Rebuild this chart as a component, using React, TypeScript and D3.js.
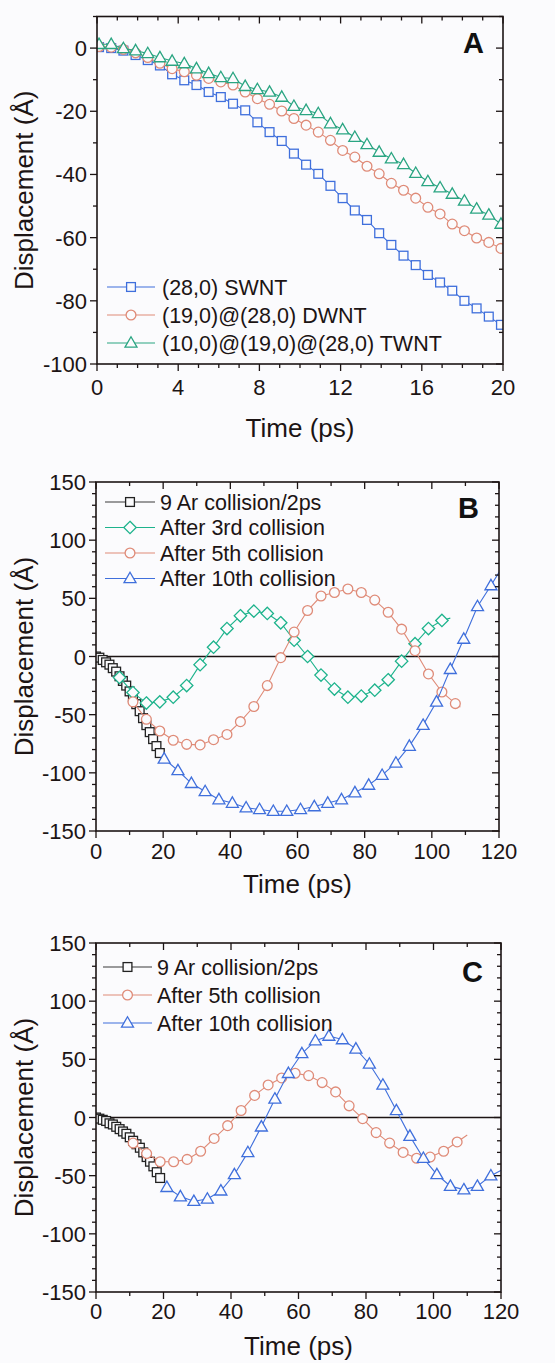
import React from 'react';
import * as d3 from 'd3';

// ---- panel A data (time in ps, displacement in Å) ----
const timeA = [0.1, 0.7, 1.3, 1.9, 2.5, 3.1, 3.7, 4.3, 4.9, 5.5, 6.1, 6.7, 7.3, 7.9, 8.5, 9.1, 9.7, 10.3, 10.9, 11.5, 12.1, 12.7, 13.3, 13.9, 14.5, 15.1, 15.7, 16.3, 16.9, 17.5, 18.1, 18.7, 19.3, 19.9];
const swnt = [0.3, 0, -0.8, -2.2, -3.8, -5.5, -8.3, -10.2, -11.7, -13.9, -15.5, -17.6, -19.7, -23.5, -26.6, -29.4, -33.4, -36.9, -39.8, -43.6, -47.5, -51.4, -54.4, -58.6, -62.3, -65.7, -68.7, -71.8, -74.2, -76.8, -80, -82.4, -85, -87.6];
const dwnt = [0.5, 0.3, -0.4, -1.5, -3, -4.8, -6.5, -7.5, -8.6, -9.6, -10.7, -11.7, -13.9, -16, -17.8, -19.9, -22.3, -24.4, -26.6, -29.2, -32.4, -34.5, -37.4, -39.8, -42.8, -45, -47.5, -50.4, -52.5, -55.7, -57.8, -60.1, -61.5, -63.4];
const twnt = [1.2, 1.2, -0.1, -0.8, -1.7, -3, -4.1, -4.9, -6.5, -8, -9.3, -9.6, -12.1, -13.1, -13.9, -15.5, -18.4, -19.7, -20.7, -23.9, -25.8, -28.2, -30.5, -32.9, -35, -36.8, -39.6, -42.2, -44.2, -46.2, -48.4, -50.9, -52.8, -55.7];

// ---- panel B data ----
const bArT = [0, 1, 2, 3, 4, 5, 6, 7, 8, 9, 10, 11, 12, 13, 14, 15, 16, 17, 18, 19];
const bArV = [0, -1, -3, -5, -7, -10, -13, -17, -21, -25, -30, -35, -41, -47, -53, -59, -65, -71, -77, -83];
const b3rdT = [7, 11, 15, 19, 23, 27, 31, 35, 39, 43, 47, 51, 55, 59, 63, 67, 71, 75, 79, 83, 87, 91, 95, 99, 103, 105.5];
const b3rdV = [-18, -31, -40, -39, -35, -25, -7, 8, 24, 35, 39, 37, 29, 14, 0, -16, -28, -35, -34, -29, -20, -4, 11, 24, 31, 33];
const b5thT = [11, 15, 19, 23, 27, 31, 35, 39, 43, 47, 51, 55, 59, 63, 67, 71, 75, 79, 83, 87, 91, 95, 99, 103, 107, 108.5];
const b5thV = [-39, -54, -64, -72, -75.5, -76, -71.5, -67, -56, -43, -25, -1, 21, 39.5, 52, 55, 58, 55, 48.5, 38, 23.5, 5, -15, -30.5, -40.5, -43.5];
const b10thT = [20.3, 24.4, 28.4, 32.5, 36.6, 40.6, 44.7, 48.7, 52.8, 56.8, 60.9, 65, 69, 73.1, 77.1, 81.2, 85.2, 89.3, 93.3, 97.4, 101.4, 105.5, 109.5, 113.6, 117.6, 121];
const b10thV = [-88, -98, -109, -116, -123, -126, -130, -131.5, -133, -133, -131.5, -129, -126, -123, -117, -110.5, -102, -91.5, -77, -59, -39, -11, 15, 43, 61, 77];

// ---- panel C data ----
const cArT = [0, 1, 2, 3, 4, 5, 6, 7, 8, 9, 10, 11, 12, 13, 14, 15, 16, 17, 18, 19];
const cArV = [0, -1, -2, -3, -5, -6, -8, -10, -12, -14, -17, -20, -23, -26, -30, -34, -38, -42, -47, -52];
const c5thT = [11, 15, 19, 23, 27, 31, 35, 39, 43, 47, 51, 55, 59, 63, 67, 71, 75, 79, 83, 87, 91, 95, 99, 103, 107, 110];
const c5thV = [-22, -31, -38, -38, -36, -29, -18, -7, 6, 19, 28, 34, 38, 36, 30, 22, 10, -1, -13, -22, -30, -35, -34, -29, -21, -15];
const c10thT = [21, 25, 29, 33, 37, 41, 45, 49, 53, 57, 61, 65, 69, 73, 77, 81, 85, 89, 93, 97, 101, 105, 109, 113, 117, 121];
const c10thV = [-60, -68, -72, -70, -63, -49, -30, -8, 16, 38, 55, 66, 70, 67, 59, 46, 28, 6, -16, -35, -49, -59, -62, -59, -50, -44];

// axis tick labels
const xTicksA = [0, 4, 8, 12, 16, 20];
const yTicksA = [0, -20, -40, -60, -80, -100];
const xTicksBC = [0, 20, 40, 60, 80, 100, 120];
const yTicksBC = [150, 100, 50, 0, -50, -100, -150];

const FONT = 'Liberation Sans, Arial, Helvetica, sans-serif';
const BG = '#fbfbfd';
const INK = '#1c1414';

const BLUE = '#3f6fdc';
const RED = '#df8b78';
const GREEN_A = '#2aa582';
const GREEN_B = '#1db38c';
const GRAY = '#3a3a3a';

type Series = {
  name: string;
  t: number[];
  v: number[];
  color: string;
  marker: 'square' | 'circle' | 'triangle' | 'diamond';
  tail?: boolean; // last point is line only
  lineColor?: string;
};

const Marker = ({ type, x, y, color }: { type: string; x: number; y: number; color: string }) => {
  const sw = 1.3;
  if (type === 'square') {
    return <rect x={x - 4.4} y={y - 4.4} width={8.8} height={8.8} fill={BG} stroke={color} strokeWidth={sw} />;
  }
  if (type === 'circle') {
    return <circle cx={x} cy={y} r={4.9} fill={BG} stroke={color} strokeWidth={sw} />;
  }
  if (type === 'triangle') {
    const p = `${x},${y - 6.2} ${x + 6},${y + 4.2} ${x - 6},${y + 4.2}`;
    return <polygon points={p} fill={BG} stroke={color} strokeWidth={sw} />;
  }
  const p = `${x},${y - 6.2} ${x + 6.2},${y} ${x},${y + 6.2} ${x - 6.2},${y}`;
  return <polygon points={p} fill={BG} stroke={color} strokeWidth={sw} />;
};

type PanelProps = {
  id: string;
  letter: string;
  box: { x0: number; x1: number; y0: number; y1: number };
  xDomain: [number, number];
  yDomain: [number, number];
  xTicks: number[];
  yTicks: number[];
  xMinor: number;
  yMinor: number;
  series: Series[];
  legend: { lx0: number; lx1: number; tx: number; rows: number[] };
  letterPos: [number, number];
  xLabelOffset: number;
  titleY: number;
  zeroLine: boolean;
};

const Panel = (p: PanelProps) => {
  const { x0, x1, y0, y1 } = p.box;
  const x = d3.scaleLinear().domain(p.xDomain).range([x0, x1]);
  const y = d3.scaleLinear().domain(p.yDomain).range([y1, y0]);
  const xMinorTicks = d3.range(p.xDomain[0], p.xDomain[1] + 0.001, p.xMinor);
  const yMinorTicks = d3.range(p.yDomain[0], p.yDomain[1] + 0.001, p.yMinor);
  const major = 7;
  const minor = 4;
  const line = d3.line<[number, number]>().x(d => x(d[0])).y(d => y(d[1]));
  const clipId = `clip-${p.id}`;

  return (
    <g>
      <defs>
        <clipPath id={clipId}>
          <rect x={x0} y={y0} width={x1 - x0} height={y1 - y0} />
        </clipPath>
      </defs>

      {p.zeroLine && <line x1={x0} x2={x1} y1={y(0)} y2={y(0)} stroke={INK} strokeWidth={1.4} />}

      <g clipPath={`url(#${clipId})`}>
        {p.series.map(s => {
          const pts = s.t.map((t, i) => [t, s.v[i]] as [number, number]);
          const markPts = s.tail ? pts.slice(0, -1) : pts;
          return (
            <g key={s.name}>
              <path d={line(pts) || ''} fill="none" stroke={s.lineColor || s.color} strokeWidth={1.1} />
              {markPts.map((d, i) => (
                <Marker key={i} type={s.marker} x={x(d[0])} y={y(d[1])} color={s.color} />
              ))}
            </g>
          );
        })}
      </g>

      {/* frame */}
      <rect x={x0} y={y0} width={x1 - x0} height={y1 - y0} fill="none" stroke={INK} strokeWidth={1.6} />

      {/* x ticks: bottom outward, top inward */}
      {xMinorTicks.map(t => {
        const isMajor = p.xTicks.some(m => Math.abs(m - t) < 1e-6);
        const len = isMajor ? major : minor;
        return (
          <g key={`xt${t}`} stroke={INK} strokeWidth={1.3}>
            <line x1={x(t)} x2={x(t)} y1={y1} y2={y1 + len} />
            <line x1={x(t)} x2={x(t)} y1={y0} y2={y0 + len} />
          </g>
        );
      })}
      {/* y ticks: left outward, right inward */}
      {yMinorTicks.map(t => {
        const isMajor = p.yTicks.some(m => Math.abs(m - t) < 1e-6);
        const len = isMajor ? major : minor;
        return (
          <g key={`yt${t}`} stroke={INK} strokeWidth={1.3}>
            <line x1={x0 - len} x2={x0} y1={y(t)} y2={y(t)} />
            <line x1={x1 - len} x2={x1} y1={y(t)} y2={y(t)} />
          </g>
        );
      })}

      {/* tick labels */}
      {p.xTicks.map(t => (
        <text key={`xl${t}`} x={x(t)} y={y1 + p.xLabelOffset} textAnchor="middle" fontSize={22} fill={INK} fontFamily={FONT}>
          {t}
        </text>
      ))}
      {p.yTicks.map(t => (
        <text key={`yl${t}`} x={x0 - 10} y={y(t) + 8} textAnchor="end" fontSize={22} fill={INK} fontFamily={FONT}>
          {t}
        </text>
      ))}

      {/* axis titles */}
      <text x={(x0 + x1) / 2} y={p.titleY} textAnchor="middle" fontSize={26} fill={INK} fontFamily={FONT}>
        Time (ps)
      </text>
      <text
        transform={`translate(33,${(y0 + y1) / 2}) rotate(-90)`}
        textAnchor="middle"
        fontSize={26}
        fill={INK}
        fontFamily={FONT}
      >
        Displacement (Å)
      </text>

      {/* panel letter */}
      <text x={p.letterPos[0]} y={p.letterPos[1]} textAnchor="end" fontSize={29} fontWeight="bold" fill="#111" fontFamily={FONT}>
        {p.letter}
      </text>

      {/* legend */}
      {p.series.map((s, i) => {
        const ry = p.legend.rows[i];
        const mx = (p.legend.lx0 + p.legend.lx1) / 2;
        return (
          <g key={`lg${s.name}`}>
            <line x1={p.legend.lx0} x2={p.legend.lx1} y1={ry} y2={ry} stroke={s.lineColor || s.color} strokeWidth={1.1} />
            <Marker type={s.marker} x={mx} y={ry} color={s.color} />
            <text x={p.legend.tx} y={ry + 7.5} fontSize={21.5} fill={INK} fontFamily={FONT}>
              {s.name}
            </text>
          </g>
        );
      })}
    </g>
  );
};

const App = () => {
  const seriesA: Series[] = [
    { name: '(28,0) SWNT', t: timeA, v: swnt, color: BLUE, marker: 'square' },
    { name: '(19,0)@(28,0) DWNT', t: timeA, v: dwnt, color: RED, marker: 'circle' },
    { name: '(10,0)@(19,0)@(28,0) TWNT', t: timeA, v: twnt, color: GREEN_A, marker: 'triangle' },
  ];
  const seriesB: Series[] = [
    { name: '9 Ar collision/2ps', t: bArT, v: bArV, color: '#222', marker: 'square', lineColor: GRAY },
    { name: 'After 3rd collision', t: b3rdT, v: b3rdV, color: GREEN_B, marker: 'diamond', tail: true },
    { name: 'After 5th collision', t: b5thT, v: b5thV, color: RED, marker: 'circle', tail: true },
    { name: 'After 10th collision', t: b10thT, v: b10thV, color: BLUE, marker: 'triangle', tail: true },
  ];
  const seriesC: Series[] = [
    { name: '9 Ar collision/2ps', t: cArT, v: cArV, color: '#222', marker: 'square', lineColor: GRAY },
    { name: 'After 5th collision', t: c5thT, v: c5thV, color: RED, marker: 'circle', tail: true },
    { name: 'After 10th collision', t: c10thT, v: c10thV, color: BLUE, marker: 'triangle', tail: true },
  ];

  return (
    <svg
      width={555}
      height={1363}
      style={{ position: 'absolute', left: 0, top: 0, display: 'block' }}
    >
      <rect x={0} y={0} width={555} height={1363} fill={BG} />
      <Panel
        id="a"
        letter="A"
        box={{ x0: 97, x1: 503, y0: 16.5, y1: 364 }}
        xDomain={[0, 20]}
        yDomain={[-100, 10]}
        xTicks={xTicksA}
        yTicks={yTicksA}
        xMinor={1}
        yMinor={10}
        series={seriesA}
        legend={{ lx0: 107, lx1: 155, tx: 162, rows: [287, 315, 343] }}
        letterPos={[484, 53]}
        xLabelOffset={31}
        titleY={437}
        zeroLine={false}
      />
      <Panel
        id="b"
        letter="B"
        box={{ x0: 96, x1: 499, y0: 482, y1: 831 }}
        xDomain={[0, 120]}
        yDomain={[-150, 150]}
        xTicks={xTicksBC}
        yTicks={yTicksBC}
        xMinor={10}
        yMinor={10}
        series={seriesB}
        legend={{ lx0: 105, lx1: 155, tx: 160, rows: [502, 527.5, 553, 578.5] }}
        letterPos={[479, 518]}
        xLabelOffset={28}
        titleY={893}
        zeroLine={true}
      />
      <Panel
        id="c"
        letter="C"
        box={{ x0: 96, x1: 501, y0: 943, y1: 1292 }}
        xDomain={[0, 120]}
        yDomain={[-150, 150]}
        xTicks={xTicksBC}
        yTicks={yTicksBC}
        xMinor={10}
        yMinor={10}
        series={seriesC}
        legend={{ lx0: 103, lx1: 152, tx: 157, rows: [967, 995, 1023] }}
        letterPos={[483, 982]}
        xLabelOffset={27}
        titleY={1355}
        zeroLine={true}
      />
    </svg>
  );
};

export default App;
